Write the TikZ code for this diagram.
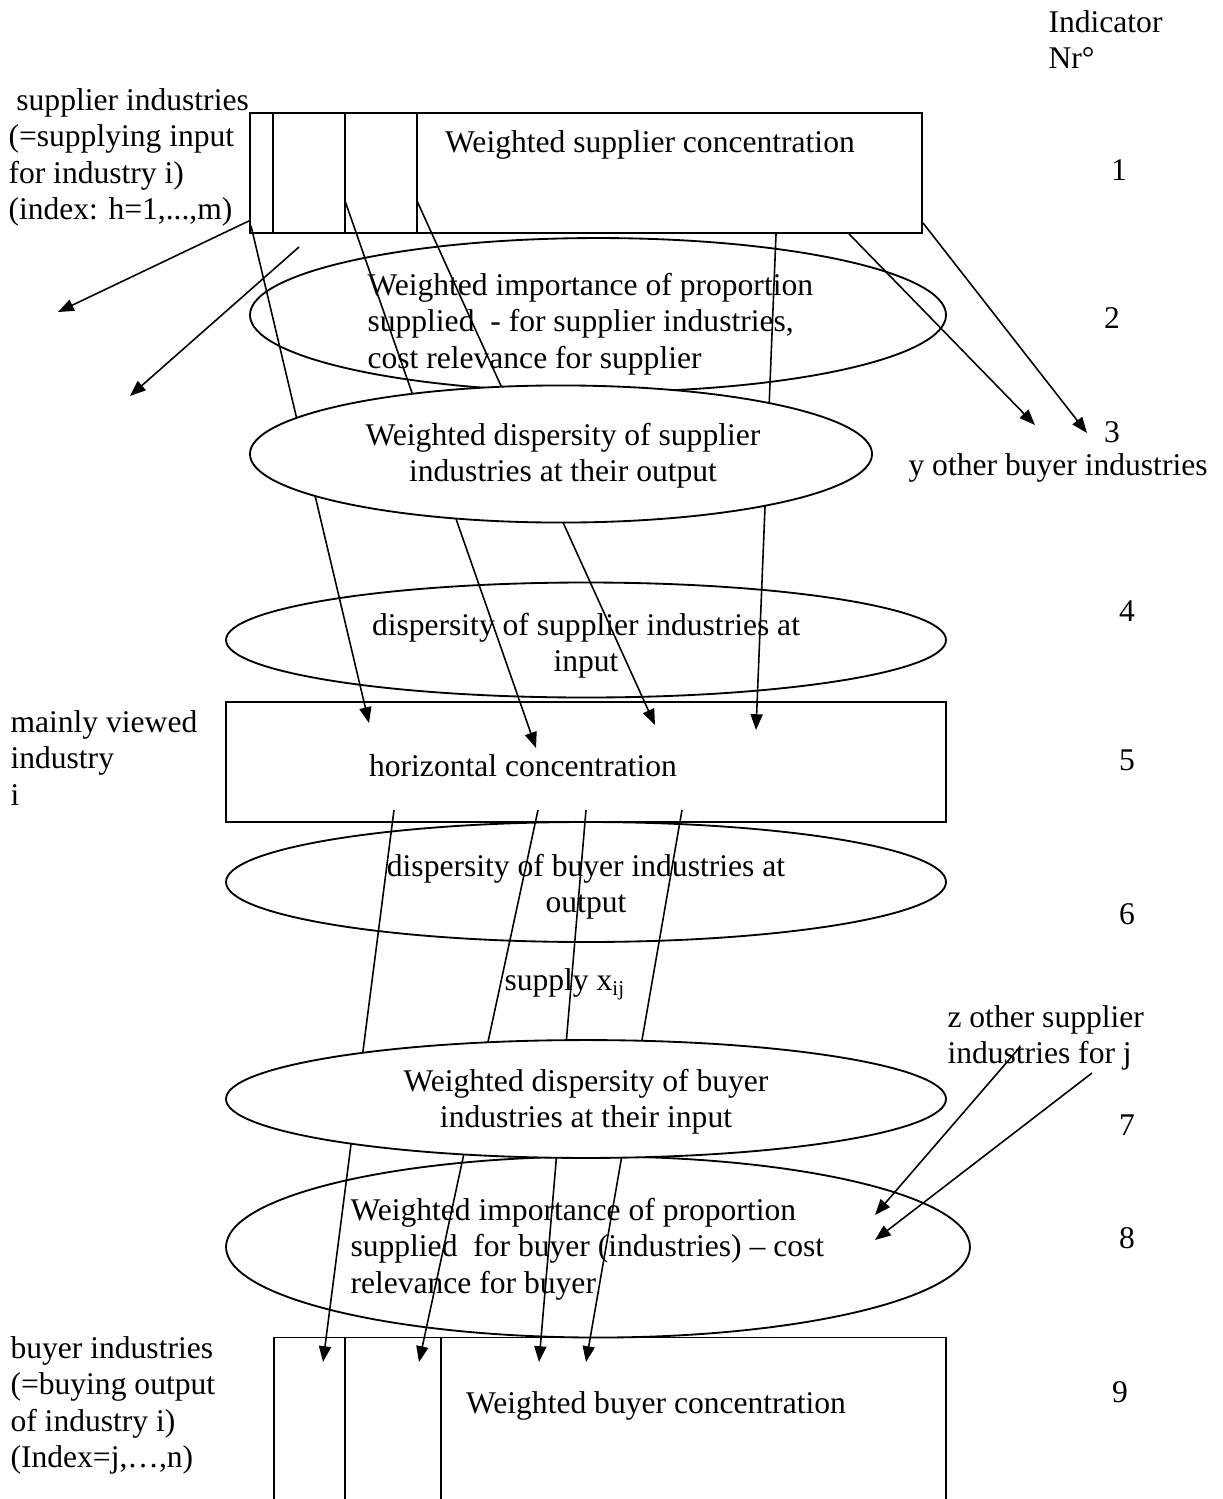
\documentclass[tikz,border=0pt]{standalone}
\usepackage{fontspec}
\setmainfont{Liberation Serif}
\usetikzlibrary{calc, positioning, shapes.geometric, arrows.meta}
\tikzstyle{block} = [rectangle, minimum width=255.4pt, minimum height=45.6pt, draw=black, fill=white, line width=0.7pt, inner sep=0pt]
\tikzstyle{oval} = [ellipse, minimum width=273.6pt, draw=black, fill=white, line width=0.7pt, inner sep=0pt]
\tikzstyle{inside} = [inner sep=0pt, align=center]
\tikzstyle{side} = [inner sep=0pt, align=left, anchor=north west]
\tikzstyle{nr} = [inner sep=0pt]
\tikzstyle{arrow} = [line width=0.6pt, -{Triangle[length=6pt,width=4.6pt]}]

\begin{document}
\begin{tikzpicture}[x=0.38pt, y=-0.38pt, font=\fontsize{12}{13.8}\selectfont]
			\useasboundingbox (0,0) rectangle (1223,1499);
			\clip (0,0) rectangle (1223,1499);
			
			% indicator column
			\node (indic) [side] at (1048,10) {Indicator\\Nr°};
			\node (n1) [nr] at (1119,170) {1};
			\node (n2) [nr] at (1112,318) {2};
			\node (n3) [nr] at (1112,432) {3};
			\node (n4) [nr] at (1127,611) {4};
			\node (n5) [nr] at (1127,760) {5};
			\node (n6) [nr] at (1127,914) {6};
			\node (n7) [nr] at (1127,1125) {7};
			\node (n8) [nr] at (1127,1238) {8};
			\node (n9) [nr] at (1120,1392) {9};
			
			% supplier side
			\node (supbox) [block] at (586,173) {};
			\draw [line width=0.6pt] ($(supbox.north west)+(24,0)$) -- ($(supbox.south west)+(24,0)$);
			\draw [line width=0.6pt] ($(supbox.north west)+(96,0)$) -- ($(supbox.south west)+(96,0)$);
			\draw [line width=0.6pt] ($(supbox.north west)+(168,0)$) -- ($(supbox.south west)+(168,0)$);
			\node (suptext) at (650,145) {Weighted supplier concentration};
			\node (suplab) [side] at (8,88) {\hspace*{3pt}supplier industries\\(=supplying input\\for industry i)\\(index: h=1,...,m)};
			\node (impsup) [oval, minimum width=264.5pt, minimum height=58.5pt] at (598,315) {};
			\node (impsuptext) [inside, align=left, anchor=west] at (367,324) {Weighted importance of proportion\\supplied \ - for supplier industries,\\cost relevance for supplier};
			\node (dispsupin) [oval, minimum height=43.7pt] at (586,640) {};
			\node (dispsupintext) [inside] at (586,646) {dispersity of supplier industries at\\input};
			\node (horiz) [block, minimum width=273.6pt] at (586,762) {};
			\node (hortext) at (523,766) {horizontal concentration};
			\node (mainlab) [side] at (10,710) {mainly viewed\\industry\\i};
			
			% arrows from supplier industries
			\coordinate (leftA) at (58,312);
			\coordinate (leftB) at (130,396);
			\coordinate (fromB) at (299,247);
			\coordinate (inA) at (369,723);
			\coordinate (inB) at (536,748);
			\coordinate (inC) at (655,725);
			\coordinate (inD) at (756,730);
			\coordinate (otherA) at (1035,425);
			\coordinate (otherB) at (1087,433);
			\draw [arrow] ($(supbox.south west)+(0,-13)$) -- (leftA);
			\draw [arrow] (fromB) -- (leftB);
			\draw [arrow] ($(supbox.south west)+(2,-8)$) -- (inA);
			\draw [arrow] ($(supbox.south west)+(96,-33)$) -- (inB);
			\draw [arrow] ($(supbox.south west)+(168,-33)$) -- (inC);
			\draw [arrow] ($(supbox.south west)+(527,0)$) -- (inD);
			\draw [arrow] ($(supbox.south west)+(600,0)$) -- (otherA);
			\draw [arrow] ($(supbox.south east)+(0,-11)$) -- (otherB);
			
			\node (wdispsup) [oval, minimum width=236.4pt, minimum height=52.1pt] at (561,454) {};
			\node (wdispsuptext) [inside] at (563,456) {Weighted dispersity of supplier\\industries at their output};
			\node (ylab) [side, anchor=west] at (908,468) {y other buyer industries};
			
			% buyer side
			\node (wbuy) [block, minimum height=67.3pt] at (610,1426) {};
			\draw [line width=0.6pt] ($(wbuy.north west)+(72,0)$) -- ($(wbuy.south west)+(72,0)$);
			\draw [line width=0.6pt] ($(wbuy.north west)+(168,0)$) -- ($(wbuy.south west)+(168,0)$);
			\node (wbuytext) at (656,1406) {Weighted buyer concentration};
			\node (buylab) [side] at (10,1336) {buyer industries\\(=buying output\\of industry i)\\(Index=j,…,n)};
			\node (dispbuyout) [oval, minimum height=45.6pt] at (586,882) {};
			\node (dispbuyouttext) [inside] at (586,887) {dispersity of buyer industries at\\output};
			\node (supply) at (565,984) {supply x\textsubscript{ij}};
			\node (impbuy) [oval, minimum width=282.7pt, minimum height=68.8pt] at (598,1247) {};
			\node (impbuytext) [inside, align=left, anchor=west] at (350,1249) {Weighted importance of proportion\\supplied \ for buyer (industries) -- cost\\relevance for buyer};
			
			% arrows to buyer industries
			\coordinate (outA) at (394,810);
			\coordinate (outB) at (538,810);
			\coordinate (outC) at (586,810);
			\coordinate (outD) at (682,810);
			\coordinate (buyA) at (323,1362);
			\coordinate (buyB) at (419,1362);
			\coordinate (buyC) at (539,1362);
			\coordinate (buyD) at (586,1362);
			\draw [arrow] (outA) -- (buyA);
			\draw [arrow] (outB) -- (buyB);
			\draw [arrow] (outC) -- (buyC);
			\draw [arrow] (outD) -- (buyD);
			
			\node (wdispbuy) [oval, minimum height=44.8pt] at (586,1099) {};
			\node (wdispbuytext) [inside] at (586,1102) {Weighted dispersity of buyer\\industries at their input};
			\node (zlab) [side] at (947,1005) {z other supplier\\industries for j};
			
			% other suppliers of j
			\coordinate (zA) at (1020,1047);
			\coordinate (zB) at (1092,1073);
			\coordinate (costA) at (875,1215);
			\coordinate (costB) at (875,1240);
			\draw [arrow] (zA) -- (costA);
			\draw [arrow] (zB) -- (costB);
			
		\end{tikzpicture}
\end{document}
